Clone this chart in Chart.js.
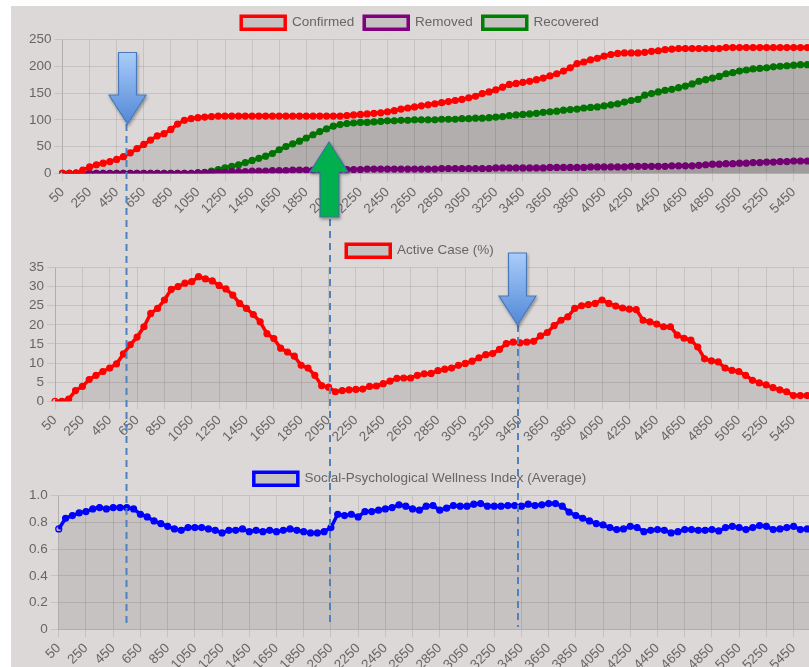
<!DOCTYPE html>
<html>
<head>
<meta charset="utf-8">
<script src="https://cdn.jsdelivr.net/npm/chart.js@4"></script>
<style>
html, body { margin: 0; background: #fff; overflow: hidden; width: 809px; height: 667px; }
#wrap { position: absolute; left: 11px; top: 6px; width: 840px; height: 700px; background: #ddd8d8; }
canvas { display: block; }
#marks { position: absolute; left: 0; top: 0; pointer-events: none; }
</style>
</head>
<body>
<div id="wrap">
  <canvas id="casesChart" width="818" height="228"></canvas>
  <canvas id="activeChart" width="818" height="228"></canvas>
  <canvas id="wellnessChart" width="818" height="228"></canvas>
</div>

<!-- hand-drawn annotations over the charts -->
<svg id="marks" width="809" height="667">
  <defs>
    <linearGradient id="blueGrad" x1="0" y1="0" x2="0" y2="1">
      <stop offset="0" stop-color="#a9cdfb"/>
      <stop offset="1" stop-color="#5288d6"/>
    </linearGradient>
    <filter id="shadow" x="-30%" y="-30%" width="160%" height="160%">
      <feDropShadow dx="1" dy="2" stdDeviation="1.5" flood-color="#000" flood-opacity="0.35"/>
    </filter>
  </defs>
  <g stroke="#4f81bd" stroke-width="2" stroke-dasharray="7 5" fill="none">
    <line x1="126.5" y1="124" x2="126.5" y2="627"/>
    <line x1="330" y1="219" x2="330" y2="627"/>
    <line x1="518" y1="325" x2="518" y2="627"/>
  </g>
  <g filter="url(#shadow)" stroke-width="1.2">
    <polygon fill="url(#blueGrad)" stroke="#4a78b8"
      points="118.5,52.5 136.5,52.5 136.5,95 146,95 127.5,124 109,95 118.5,95"/>
    <polygon fill="#00b050" stroke="#41719c"
      points="320,217 339,217 339,172 348,172 329,142 310,172 320,172"/>
    <polygon fill="url(#blueGrad)" stroke="#4a78b8"
      points="508.5,253 526.5,253 526.5,296 536,296 517.5,325 499,296 508.5,296"/>
  </g>
</svg>

<script>
// x categories (every 4th one is labelled)
const steps = [50,100,150,200,250,300,350,400,450,500,550,600,650,700,750,800,850,900,950,1000,
  1050,1100,1150,1200,1250,1300,1350,1400,1450,1500,1550,1600,1650,1700,1750,1800,1850,1900,1950,2000,
  2050,2100,2150,2200,2250,2300,2350,2400,2450,2500,2550,2600,2650,2700,2750,2800,2850,2900,2950,3000,
  3050,3100,3150,3200,3250,3300,3350,3400,3450,3500,3550,3600,3650,3700,3750,3800,3850,3900,3950,4000,
  4050,4100,4150,4200,4250,4300,4350,4400,4450,4500,4550,4600,4650,4700,4750,4800,4850,4900,4950,5000,
  5050,5100,5150,5200,5250,5300,5350,5400,5450,5500,5550,5600];

const confirmed = [0,0,1,6,12,16,19,22,26,31,
  38,46,54,62,70,74,82,92,99,102,
  104,105,106,107,107,107,107,107,107,107,
  107,107,107,107,107,107,107,107,107,107,
  107,107,108,109,110,111,112,113,115,117,
  120,122,124,126,128,130,132,134,136,138,
  141,144,149,152,156,161,166,168,170,172,
  175,178,182,186,191,197,205,208,212,215,
  219,222,224,225,225,225,226,228,229,231,
  232,233,233,233,233,233,233,233,235,235,
  235,235,235,235,235,235,235,235,235,235,
  235,235];

const removed = [0,0,0,0,0,0,0,0,0,0,
  0,0,0,0,0,0,0,0,0,0,
  1,1,2,2,2,3,3,3,4,4,
  4,5,5,5,6,6,6,6,7,7,
  7,7,7,7,7,8,8,8,8,8,
  8,8,8,8,8,8,9,9,9,9,
  9,9,9,9,10,10,10,10,10,10,
  10,10,11,11,11,11,11,11,12,12,
  12,12,12,12,13,13,13,13,13,13,
  14,14,14,14,15,16,17,17,18,18,
  19,19,20,20,21,21,22,22,23,23,
  23,23];

const recovered = [0,0,0,0,0,0,0,0,0,0,
  0,0,0,0,0,0,0,0,0,0,
  1,2,4,7,10,13,16,20,24,28,
  32,37,44,50,55,60,66,72,78,83,
  88,91,93,94,95,95,96,97,98,98,
  99,99,100,100,100,100,101,101,101,102,
  102,103,103,104,105,106,108,109,110,111,
  112,114,115,116,118,119,120,122,123,124,
  126,128,130,133,136,138,146,149,152,155,
  157,160,163,167,172,175,178,181,186,188,
  191,193,195,196,197,199,200,201,202,203,
  203,203];

const activePct = [0,0,0.6,2.8,3.9,5.7,6.8,7.8,8.7,9.8,
  12.4,14.8,16.8,19.5,23,24.3,26.5,29.3,30,30.9,
  31.3,32.6,32,31.5,30.3,29.4,27.8,25.6,24.3,22.7,
  20.8,17.7,16.4,13.9,12.9,11.8,9.4,8.7,6.8,4.1,
  3.7,2.5,2.8,3,3.1,3.2,3.9,4,4.6,5.3,
  6,6.1,6.1,6.8,7.2,7.3,8,8.4,8.7,9.4,
  9.9,10.5,11.4,12.2,12.5,13.6,15.1,15.5,15.3,15.5,
  15.7,17.1,18,19.8,21.2,22.1,24.3,25,25.3,25.6,
  26.5,25.6,24.9,24.4,24.1,24,21.2,20.8,20.2,19.5,
  19.5,17.3,16.5,16,14.2,11.1,10.6,10.3,8.7,8.1,
  7.8,6.8,5.5,4.8,4.3,3.6,3,2.5,1.5,1.5,
  1.5,1.5];

const wellness = [0.75,0.83,0.85,0.87,0.88,0.9,0.91,0.9,0.91,0.91,
  0.91,0.9,0.86,0.84,0.81,0.79,0.77,0.75,0.74,0.76,
  0.76,0.76,0.75,0.74,0.72,0.74,0.74,0.75,0.73,0.74,
  0.73,0.74,0.73,0.74,0.75,0.74,0.73,0.72,0.72,0.73,
  0.76,0.86,0.85,0.86,0.84,0.88,0.88,0.89,0.9,0.91,
  0.93,0.92,0.9,0.89,0.92,0.925,0.89,0.905,0.925,0.92,
  0.92,0.935,0.94,0.92,0.92,0.92,0.925,0.925,0.92,0.935,
  0.925,0.93,0.94,0.94,0.92,0.876,0.85,0.83,0.81,0.79,
  0.78,0.76,0.745,0.75,0.77,0.76,0.73,0.74,0.745,0.74,
  0.72,0.73,0.745,0.745,0.74,0.74,0.745,0.735,0.76,0.77,
  0.76,0.745,0.76,0.775,0.77,0.745,0.75,0.76,0.77,0.745,
  0.75,0.75];

Chart.defaults.font.family = "'Helvetica Neue', Helvetica, Arial, sans-serif";
Chart.defaults.font.size = 13.5;
Chart.defaults.color = '#666';

const gridColor = 'rgba(0,0,0,0.1)';
const fillColor = 'rgba(0,0,0,0.1)';

function series(label, data, color) {
    return {
        label: label,
        data: data,
        borderColor: color,
        backgroundColor: fillColor,
        pointBorderColor: color,
        // first dot stays hollow like the original, the rest look solid
        pointBackgroundColor: ctx => ctx.dataIndex === 0 ? fillColor : color,
        fill: 'origin'
    };
}

function makeChart(id, datasets, yMax, yStep, yFormat) {
    return new Chart(document.getElementById(id), {
        type: 'line',
        data: { labels: steps, datasets: datasets },
        options: {
            responsive: false,
            animation: false,
            layout: { padding: { left: 15, right: 15, bottom: 14 } },
            elements: {
                line: { tension: 0, borderWidth: 3.5 },
                point: { radius: 3, borderWidth: 1.2 }
            },
            plugins: {
                legend: {
                    position: 'top',
                    labels: { boxWidth: 44, boxHeight: 13, padding: 10, color: '#666' }
                },
                tooltip: { enabled: false }
            },
            scales: {
                x: {
                    grid: { color: gridColor, tickLength: 8 },
                    ticks: {
                        autoSkip: false,
                        minRotation: 45,
                        maxRotation: 45,
                        callback: function (v, i) {
                            return i % 4 === 0 ? this.getLabelForValue(v) : null;
                        }
                    }
                },
                y: {
                    min: 0,
                    max: yMax,
                    grid: { color: gridColor, tickLength: 8 },
                    ticks: { stepSize: yStep, autoSkip: false, callback: yFormat }
                }
            }
        }
    });
}

makeChart('casesChart', [
    series('Confirmed', confirmed, '#ff0000'),
    series('Removed', removed, '#800080'),
    series('Recovered', recovered, '#008000')
], 250, 50, v => v);

makeChart('activeChart', [
    series('Active Case (%)', activePct, '#ff0000')
], 35, 5, v => v);

makeChart('wellnessChart', [
    series('Social-Psychological Wellness Index (Average)', wellness, '#0000ff')
], 1, 0.2, v => v === 0 ? '0' : v.toFixed(1));
</script>
</body>
</html>
